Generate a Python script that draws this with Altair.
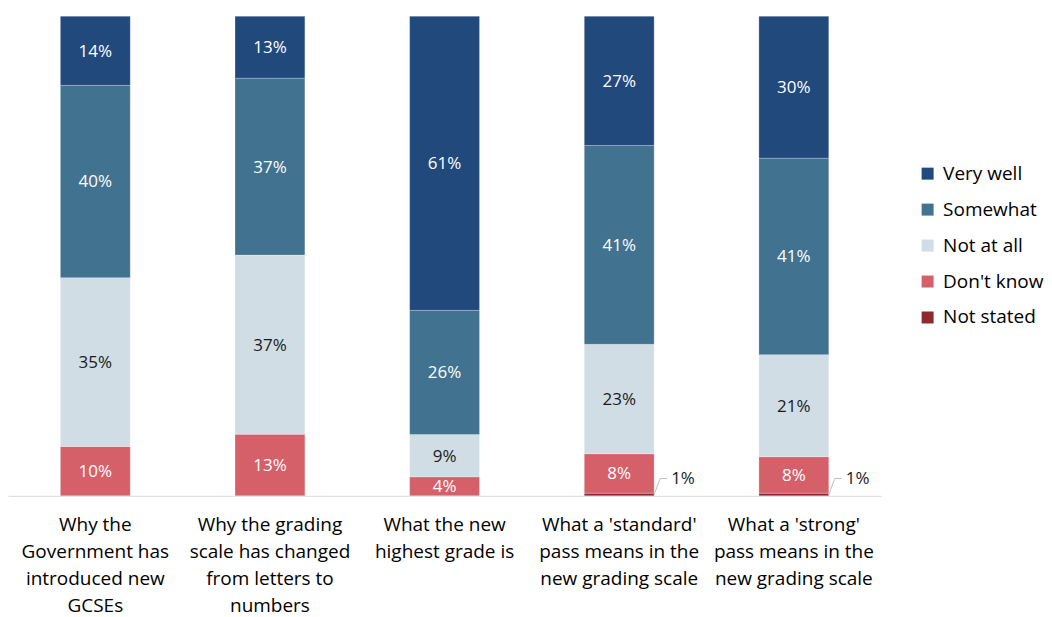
import altair as alt
import pandas as pd

categories = [
    "Why the|Government has|introduced new|GCSEs",
    "Why the grading|scale has changed|from letters to|numbers",
    "What the new|highest grade is",
    "What a 'standard'|pass means in the|new grading scale",
    "What a 'strong'|pass means in the|new grading scale",
]
# stacking order, bottom to top
responses = ["Not stated", "Don't know", "Not at all", "Somewhat", "Very well"]
not_stated = [0.0, 0.0, 0.0, 0.56, 0.56]
dont_know = [10.3, 12.85, 3.96, 8.2, 7.6]
not_at_all = [35.2, 37.35, 8.8, 22.8, 21.3]
somewhat = [40.1, 36.9, 25.9, 41.4, 41.0]
very_well = [14.4, 12.9, 61.3, 26.9, 29.6]

legend_order = ["Very well", "Somewhat", "Not at all", "Don't know", "Not stated"]
colors = ["#21497c", "#41728f", "#d0dde4", "#d6606a", "#8e2a2e"]

series = [not_stated, dont_know, not_at_all, somewhat, very_well]
rows = []
for ci, cat in enumerate(categories):
    for ri, resp in enumerate(responses):
        rows.append({"cat": cat, "resp": resp, "order": ri, "value": series[ri][ci]})
df = pd.DataFrame(rows)

FONT = "Open Sans"

base = (
    alt.Chart(df)
    .transform_stack(
        stack="value",
        groupby=["cat"],
        as_=["y0", "y1"],
        sort=[alt.SortField("order", order="ascending")],
        offset="normalize",
    )
    .transform_calculate(
        mid="(datum.y0 + datum.y1) / 2",
        label="format(datum.value, '.0f') + '%'",
    )
)

xenc = alt.X(
    "cat:N",
    sort=categories,
    scale=alt.Scale(paddingInner=0.6, paddingOuter=0.3),
    axis=alt.Axis(
        title=None,
        labelAngle=0,
        ticks=False,
        domainColor="#d9d9d9",
        domainWidth=1,
        labelFont=FONT,
        labelFontSize=19,
        labelColor="#000000",
        labelLineHeight=27,
        labelPadding=20,
        labelBaseline="top",
        labelLimit=400,
        labelExpr="split(datum.label, '|')",
    ),
)

bars = base.mark_bar(stroke="#ffffff", strokeWidth=0.4, strokeOpacity=0.6).encode(
    x=xenc,
    y=alt.Y("y0:Q", scale=alt.Scale(domain=[0, 1]), axis=None),
    y2="y1:Q",
    color=alt.Color(
        "resp:N",
        scale=alt.Scale(domain=legend_order, range=colors),
        legend=alt.Legend(
            title=None,
            orient="none",
            legendX=911,
            legendY=148,
            symbolType="square",
            symbolSize=144,
            symbolStrokeWidth=0,
            labelFont=FONT,
            labelFontSize=19,
            labelColor="#000000",
            rowPadding=16,
            labelOffset=6,
            padding=0,
        ),
    ),
)

labels = (
    base.transform_filter("datum.resp != 'Not stated' && datum.value > 0")
    .mark_text(font=FONT, fontSize=17, baseline="middle", align="center", yOffset=1)
    .encode(
        x=alt.X("cat:N", sort=categories),
        y=alt.Y("mid:Q"),
        text="label:N",
        color=alt.condition(
            "datum.resp == 'Not at all'", alt.value("#1a1a1a"), alt.value("#ffffff")
        ),
    )
)

ns = base.transform_filter("datum.resp == 'Not stated' && datum.value > 0")

leader_diag = ns.mark_rule(
    color="#bfbfbf", strokeWidth=1, xOffset=35, x2Offset=41, y2Offset=-16
).encode(
    x=alt.X("cat:N", sort=categories),
    x2=alt.X2("cat:N"),
    y=alt.Y("mid:Q"),
    y2=alt.Y2("mid:Q"),
)

leader_h = ns.mark_rule(
    color="#bfbfbf", strokeWidth=1, xOffset=41, x2Offset=48, yOffset=-16, y2Offset=-16
).encode(
    x=alt.X("cat:N", sort=categories),
    x2=alt.X2("cat:N"),
    y=alt.Y("mid:Q"),
    y2=alt.Y2("mid:Q"),
)

ns_label = ns.mark_text(
    font=FONT, fontSize=17, align="left", baseline="middle", xOffset=52, yOffset=-15,
    color="#1a1a1a",
).encode(
    x=alt.X("cat:N", sort=categories),
    y=alt.Y("mid:Q"),
    text="label:N",
)

chart = (
    alt.layer(bars, labels, leader_diag, leader_h, ns_label)
    .properties(
        width=874,
        height=480,
        padding={"left": 0, "top": 7, "right": 0, "bottom": 0},
    )
    .configure_view(stroke=None)
)

chart.save("out.html", embed_options={"renderer": "svg", "actions": False})
